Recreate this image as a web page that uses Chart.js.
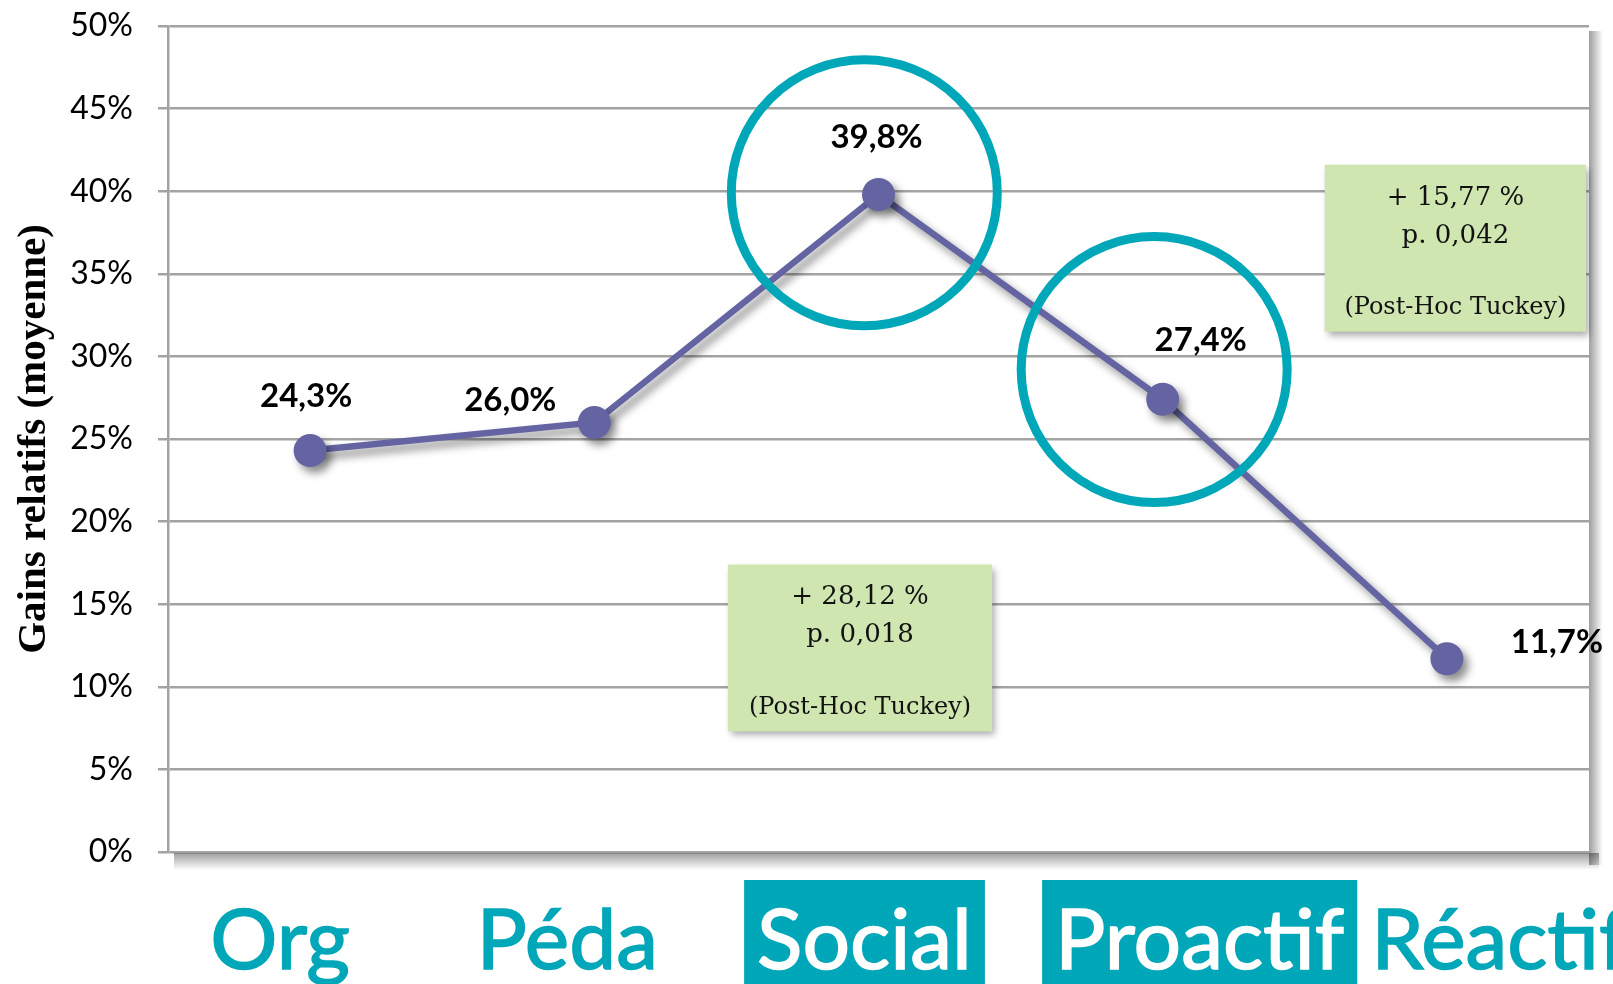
<!DOCTYPE html>
<html>
<head>
<meta charset="utf-8">
<script src="https://cdn.jsdelivr.net/npm/chart.js@4.4.1/dist/chart.umd.min.js"></script>
<style>
	html, body { margin: 0; padding: 0; background: #fff; }
	canvas { display: block; }
</style>
</head>
<body>
<canvas id="gains" width="1613" height="984"></canvas>
<script>
// categories and mean relative gains (%)
var categories = ['Org', 'Péda', 'Social', 'Proactif', 'Réactif'];
var gains = [24.3, 26.0, 39.8, 27.4, 11.7];
var highlighted = [false, false, true, true, false];

// manual nudges (px) for the category words and the value labels
var wordShift = [-30, -27, -14, 37, 53];
var valueLabelDx = [-4, -84, -2, 38, 110];
var valueLabelDy = [-54, -22, -57, -59, -16];

// circled points: [category position, value]
var circles = [[1.95, 39.9], [2.97, 29.2]];

// Post-hoc notes: text + corners in (category, value) units
var note1 = ['+ 28,12 %', 'p. 0,018', '(Post-Hoc Tuckey)'];
var note2 = ['+ 15,77 %', 'p. 0,042', '(Post-Hoc Tuckey)'];
var noteBoxes = [
	{ lines: note1, x0: 1.47, x1: 2.40, y0: 17.4, y1: 7.3 },
	{ lines: note2, x0: 3.57, x1: 4.49, y0: 41.6, y1: 31.5 }
];

var teal = '#00a7b8';
var lineColor = '#6464a2';
var gridColor = '#a3a3a3';

var shadowPlugin = {
	id: 'shadow',
	beforeDatasetDraw: function(chart) {
		var c = chart.ctx;
		c.save();
		c.shadowColor = 'rgba(0,0,0,0.45)';
		c.shadowBlur = 9;
		c.shadowOffsetX = 5;
		c.shadowOffsetY = 6;
	},
	afterDatasetDraw: function(chart) {
		chart.ctx.restore();
	}
};

var frameShadow = {
	id: 'frameShadow',
	beforeDatasetsDraw: function(chart) {
		var c = chart.ctx, a = chart.chartArea;
		c.save();
		var g = c.createLinearGradient(0, a.bottom + 1, 0, a.bottom + 18);
		g.addColorStop(0, 'rgba(0,0,0,0.38)');
		g.addColorStop(1, 'rgba(0,0,0,0)');
		c.fillStyle = g;
		c.fillRect(a.left + 6, a.bottom + 1, a.right - a.left + 4, 17);
		var h = c.createLinearGradient(a.right, 0, a.right + 14, 0);
		h.addColorStop(0, 'rgba(0,0,0,0.38)');
		h.addColorStop(1, 'rgba(0,0,0,0)');
		c.fillStyle = h;
		c.fillRect(a.right, a.top + 5, 14, a.bottom - a.top + 8);
		c.restore();
	}
};

var annotations = {
	id: 'annotations',
	afterDatasetsDraw: function(chart) {
		var c = chart.ctx;
		var xs = chart.scales.x, ys = chart.scales.y;
		var meta = chart.getDatasetMeta(0);

		// rings
		c.save();
		c.strokeStyle = teal;
		c.lineWidth = 9;
		circles.forEach(function(p) {
			c.beginPath();
			c.arc(xs.getPixelForValue(p[0]), ys.getPixelForValue(p[1]), 133, 0, Math.PI * 2);
			c.stroke();
		});
		c.restore();

		// green notes
		noteBoxes.forEach(function(b) {
			var l = xs.getPixelForValue(b.x0), r = xs.getPixelForValue(b.x1);
			var t = ys.getPixelForValue(b.y0), bt = ys.getPixelForValue(b.y1);
			c.save();
			c.shadowColor = 'rgba(0,0,0,0.35)';
			c.shadowBlur = 7;
			c.shadowOffsetX = 3;
			c.shadowOffsetY = 4;
			c.fillStyle = '#cfe6b0';
			c.fillRect(l, t, r - l, bt - t);
			c.restore();
			c.save();
			c.fillStyle = '#111';
			c.textAlign = 'center';
			c.textBaseline = 'middle';
			var cx = (l + r) / 2;
			c.font = '26px "DejaVu Serif"';
			c.fillText(b.lines[0], cx, t + 33);
			c.fillText(b.lines[1], cx, t + 71);
			c.font = '24px "DejaVu Serif"';
			c.fillText(b.lines[2], cx, t + 143);
			c.restore();
		});

		// value labels
		c.save();
		c.fillStyle = '#000';
		c.font = 'bold 33px Lato';
		c.textAlign = 'center';
		c.textBaseline = 'middle';
		meta.data.forEach(function(pt, i) {
			var txt = gains[i].toFixed(1).replace('.', ',') + '%';
			c.fillText(txt, pt.x + valueLabelDx[i], pt.y + valueLabelDy[i]);
		});
		c.restore();
	},
	afterDraw: function(chart) {
		var c = chart.ctx;
		var xs = chart.scales.x;
		c.save();
		c.font = '84px Lato';
		c.textAlign = 'center';
		c.textBaseline = 'alphabetic';
		c.lineWidth = 1.5;
		var base = 969;
		categories.forEach(function(name, i) {
			var cx = xs.getPixelForValue(i) + wordShift[i];
			var w = c.measureText(name).width;
			var col = teal;
			if (highlighted[i]) {
				c.fillStyle = teal;
				c.fillRect(cx - w / 2 - 13, base - 89, w + 26, chart.height - base + 89);
				col = '#fff';
			}
			c.fillStyle = col;
			c.strokeStyle = col;
			c.fillText(name, cx, base);
			c.strokeText(name, cx, base);
		});
		c.restore();
	}
};

var ctx = document.getElementById('gains').getContext('2d');

var chart = new Chart(ctx, {
	type: 'line',
	data: {
		labels: categories,
		datasets: [{
			data: gains,
			borderColor: lineColor,
			backgroundColor: lineColor,
			borderWidth: 6.5,
			pointRadius: 16.5,
			pointBorderWidth: 0,
			pointBackgroundColor: lineColor,
			tension: 0,
			fill: false
		}]
	},
	options: {
		responsive: false,
		animation: false,
		devicePixelRatio: 1,
		layout: { padding: { top: 26, right: 24, left: 0, bottom: 0 } },
		plugins: {
			legend: { display: false },
			tooltip: { enabled: false }
		},
		scales: {
			x: {
				offset: true,
				grid: { display: false },
				border: { display: false },
				ticks: { display: false },
				afterFit: function(s) { s.height = 132; s.paddingLeft = 0; s.paddingRight = 0; }
			},
			y: {
				min: 0,
				max: 50,
				ticks: {
					stepSize: 5,
					padding: 25,
					color: '#000',
					font: { family: 'Lato', size: 32 },
					callback: function(v) { return v + '%'; }
				},
				grid: { color: gridColor, lineWidth: 2.5, tickLength: 10 },
				border: { display: true, color: gridColor, width: 2.5 },
				title: {
					display: true,
					text: 'Gains relatifs (moyenne)',
					color: '#000',
					font: { family: 'Liberation Serif', weight: 'bold', size: 41 },
					padding: { top: 10, bottom: 0 }
				},
				afterFit: function(s) { s.width = 168; s.paddingTop = 0; s.paddingBottom = 0; }
			}
		}
	},
	plugins: [frameShadow, shadowPlugin, annotations]
});
</script>
</body>
</html>
